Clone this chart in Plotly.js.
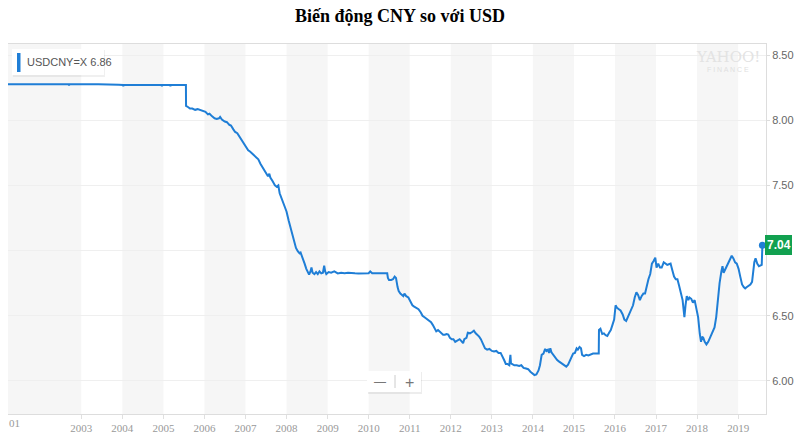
<!DOCTYPE html>
<html>
<head>
<meta charset="utf-8">
<script src="https://cdn.plot.ly/plotly-3.0.1.min.js"></script>
<style>html,body{margin:0;padding:0;background:#fff;}#chart{width:800px;height:447px;}</style>
</head>
<body>
<div id="chart"></div>
<script>
// ---- data ----
const dates = [
'2001-03-01','2001-09-01','2002-03-01','2002-09-10','2002-09-14','2002-09-18','2003-06-01','2003-11-20','2003-12-01','2004-01-05','2004-01-10','2004-01-15','2004-06-01','2004-12-15','2004-12-18','2004-12-22','2005-03-01','2005-03-04','2005-03-08','2005-07-20',
'2005-07-21','2005-08-10','2005-08-25','2005-09-15','2005-10-10','2005-11-01','2005-11-20','2005-12-15','2006-01-10','2006-02-01','2006-02-15','2006-03-10','2006-04-01','2006-04-20','2006-05-10','2006-05-20','2006-06-05','2006-07-01','2006-07-20','2006-08-10','2006-08-25','2006-09-15','2006-10-01','2006-10-20','2006-11-10','2006-12-01','2006-12-20',
'2007-01-10','2007-01-25','2007-02-10','2007-03-01','2007-03-20','2007-04-10','2007-04-25','2007-05-15','2007-06-01','2007-06-20','2007-07-05','2007-07-20','2007-08-01','2007-08-10','2007-09-01','2007-09-20','2007-10-05','2007-10-20','2007-11-01','2007-11-20','2007-12-10',
'2008-01-01','2008-01-20','2008-02-05','2008-02-20','2008-03-10','2008-03-25','2008-04-10','2008-04-25','2008-05-05','2008-05-20','2008-06-10','2008-06-25','2008-07-10','2008-07-20','2008-08-01','2008-08-10','2008-08-20','2008-09-05','2008-09-20','2008-10-05','2008-10-20','2008-11-05','2008-11-20','2008-12-01','2008-12-10','2008-12-20',
'2009-01-10','2009-02-01','2009-03-01','2009-04-01','2009-05-01','2009-06-01','2009-07-01','2009-08-01','2009-09-01','2009-10-01','2009-11-01','2009-12-01','2010-01-01','2010-01-15','2010-02-01','2010-03-01','2010-04-01','2010-05-01','2010-06-15',
'2010-06-21','2010-07-01','2010-07-20','2010-08-05','2010-08-20','2010-09-01','2010-09-15','2010-09-25','2010-10-10','2010-10-20','2010-11-05','2010-11-15','2010-12-01','2010-12-20',
'2011-01-10','2011-01-25','2011-02-10','2011-03-01','2011-03-20','2011-04-10','2011-04-25','2011-05-10','2011-05-25','2011-06-10','2011-06-25','2011-07-10','2011-07-25','2011-08-10','2011-08-25','2011-09-10','2011-09-25','2011-10-10','2011-10-25','2011-11-10','2011-11-25','2011-12-10','2011-12-25',
'2012-01-10','2012-01-25','2012-02-10','2012-03-01','2012-03-20','2012-04-05','2012-04-20','2012-05-01','2012-05-20','2012-06-01','2012-06-20','2012-07-10','2012-07-25','2012-08-10','2012-08-25','2012-09-10','2012-09-25','2012-10-10','2012-11-01','2012-11-20','2012-12-10',
'2013-01-01','2013-01-20','2013-02-10','2013-03-01','2013-03-20','2013-04-05','2013-04-20','2013-05-05','2013-05-20','2013-06-05','2013-06-15','2013-06-20','2013-07-05','2013-07-20','2013-08-10','2013-09-01','2013-09-20','2013-10-10','2013-11-01','2013-11-20','2013-12-10',
'2014-01-01','2014-01-15','2014-02-01','2014-02-20','2014-03-05','2014-03-20','2014-04-05','2014-04-20','2014-05-01','2014-05-15','2014-05-25','2014-06-05','2014-06-15','2014-07-01','2014-07-20','2014-08-05','2014-08-20','2014-09-05','2014-09-20','2014-10-10','2014-10-25','2014-11-10','2014-11-25','2014-12-10','2014-12-25',
'2015-01-10','2015-01-25','2015-02-05','2015-02-20','2015-03-05','2015-03-15','2015-04-01','2015-04-20','2015-05-10','2015-06-01','2015-06-20','2015-07-10','2015-08-10','2015-08-12','2015-08-25','2015-09-10','2015-09-25','2015-10-10','2015-10-25','2015-11-10','2015-11-25','2015-12-10','2015-12-25',
'2016-01-07','2016-01-20','2016-02-05','2016-02-20','2016-03-10','2016-03-25','2016-04-10','2016-04-25','2016-05-10','2016-05-25','2016-06-10','2016-06-25','2016-07-10','2016-07-25','2016-08-10','2016-08-25','2016-09-10','2016-09-25','2016-10-10','2016-10-25','2016-11-10','2016-11-25','2016-12-10','2016-12-25',
'2017-01-05','2017-01-20','2017-02-05','2017-02-20','2017-03-10','2017-03-25','2017-04-10','2017-04-25','2017-05-10','2017-05-25','2017-06-10','2017-06-25','2017-07-10','2017-07-25','2017-08-10','2017-08-25','2017-09-05','2017-09-10','2017-09-20','2017-10-01','2017-10-15','2017-10-25','2017-11-10','2017-11-25','2017-12-10','2017-12-25',
'2018-01-10','2018-01-25','2018-02-05','2018-02-15','2018-02-25','2018-03-10','2018-03-25','2018-04-10','2018-04-20','2018-05-05','2018-05-20','2018-06-05','2018-06-20','2018-07-05','2018-07-20','2018-08-05','2018-08-15','2018-08-25','2018-09-10','2018-09-25','2018-10-10','2018-10-25','2018-11-05','2018-11-20','2018-12-05','2018-12-20',
'2019-01-05','2019-01-20','2019-02-05','2019-02-20','2019-03-05','2019-03-20','2019-04-05','2019-04-20','2019-05-05','2019-05-15','2019-05-25','2019-06-05','2019-06-20','2019-07-05','2019-07-20','2019-07-30','2019-08-05'
];
const usdcny = [
8.277,8.277,8.277,8.277,8.266,8.277,8.277,8.277,8.272,8.271,8.262,8.271,8.270,8.270,8.262,8.270,8.270,8.262,8.270,8.270,
8.110,8.100,8.090,8.090,8.080,8.085,8.080,8.070,8.065,8.045,8.050,8.030,8.015,8.010,8.015,8.025,8.005,7.990,7.985,7.965,7.960,7.930,7.910,7.900,7.870,7.845,7.815,
7.790,7.770,7.760,7.745,7.730,7.715,7.700,7.665,7.640,7.615,7.585,7.570,7.590,7.560,7.530,7.500,7.490,7.500,7.440,7.400,7.350,
7.300,7.230,7.180,7.130,7.070,7.020,6.995,6.980,6.985,6.955,6.900,6.860,6.830,6.815,6.840,6.870,6.830,6.820,6.835,6.820,6.840,6.825,6.830,6.885,6.840,6.820,
6.835,6.830,6.840,6.825,6.830,6.827,6.830,6.826,6.826,6.825,6.826,6.826,6.826,6.840,6.826,6.826,6.826,6.826,6.826,
6.790,6.775,6.775,6.780,6.800,6.790,6.720,6.690,6.670,6.660,6.650,6.670,6.650,6.640,
6.600,6.580,6.570,6.560,6.550,6.525,6.500,6.490,6.480,6.470,6.465,6.450,6.430,6.400,6.380,6.390,6.380,6.370,6.355,6.355,6.360,6.355,6.330,
6.320,6.320,6.300,6.310,6.320,6.305,6.290,6.320,6.330,6.370,6.365,6.375,6.385,6.365,6.355,6.340,6.320,6.290,6.250,6.240,6.245,
6.230,6.225,6.230,6.215,6.215,6.190,6.160,6.130,6.130,6.120,6.200,6.135,6.130,6.120,6.120,6.115,6.120,6.100,6.095,6.090,6.070,
6.055,6.045,6.050,6.080,6.120,6.200,6.210,6.245,6.230,6.240,6.215,6.250,6.220,6.200,6.180,6.160,6.150,6.140,6.130,6.120,6.110,6.125,6.150,6.180,6.210,
6.215,6.250,6.240,6.260,6.250,6.200,6.190,6.200,6.195,6.205,6.210,6.210,6.210,6.390,6.400,6.360,6.365,6.350,6.345,6.370,6.390,6.430,6.470,
6.580,6.560,6.550,6.540,6.510,6.470,6.460,6.490,6.530,6.560,6.580,6.640,6.680,6.660,6.620,6.650,6.670,6.670,6.740,6.780,6.820,6.900,6.920,6.945,
6.870,6.900,6.870,6.870,6.910,6.900,6.890,6.895,6.900,6.850,6.800,6.780,6.780,6.730,6.680,6.620,6.530,6.490,6.580,6.650,6.620,6.640,6.630,6.600,6.620,6.550,
6.490,6.360,6.300,6.340,6.330,6.300,6.280,6.300,6.320,6.360,6.380,6.410,6.490,6.650,6.750,6.840,6.880,6.830,6.860,6.880,6.920,6.950,6.960,6.940,6.910,6.900,
6.860,6.800,6.740,6.720,6.710,6.720,6.730,6.740,6.760,6.860,6.910,6.940,6.900,6.880,6.890,6.890,7.040
];
const yearTicks = ['2003','2004','2005','2006','2007','2008','2009','2010','2011','2012','2013','2014','2015','2016','2017','2018','2019'];
const priceTicks = [6.0, 6.5, 7.0, 7.5, 8.0, 8.5];
const hiddenPriceTick = 7.0; // covered by the last-value label in the reference
const shadedYears = ['2004','2006','2008','2010','2012','2014','2016','2018'];
const chartTitle = 'Biến động CNY so với USD';
const legendText = 'USDCNY=X 6.86';
const lastLabel = '7.04';

// ---- layout helpers (pixel -> paper) ----
const L = 8, R = 766, T = 44, B = 414;
const px = v => (v - L) / (R - L);
const py = v => (B - v) / (B - T);

const xStart = '2001-03-20', xEnd = '2019-09-06';
const shapes = [];
// alternating year bands
shapes.push({type:'rect', xref:'x', yref:'paper', x0:xStart, x1:'2003-01-01', y0:0, y1:1, fillcolor:'#f6f6f6', line:{width:0}, layer:'below'});
shadedYears.forEach(y => {
  shapes.push({type:'rect', xref:'x', yref:'paper', x0:y+'-01-01', x1:(+y+1)+'-01-01', y0:0, y1:1, fillcolor:'#f6f6f6', line:{width:0}, layer:'below'});
});
// legend box shadow + box + blue bar
shapes.push({type:'rect', xref:'paper', yref:'paper', x0:px(13), x1:px(105), y0:py(77), y1:py(50), fillcolor:'rgba(0,0,0,0.06)', line:{width:0}});
shapes.push({type:'rect', xref:'paper', yref:'paper', x0:px(12), x1:px(104), y0:py(75), y1:py(49), fillcolor:'#ffffff', line:{width:0}});
shapes.push({type:'rect', xref:'paper', yref:'paper', x0:px(17), x1:px(20.5), y0:py(72), y1:py(53), fillcolor:'#1f7ed6', line:{width:0}});
// zoom buttons
shapes.push({type:'rect', xref:'paper', yref:'paper', x0:px(368), x1:px(422), y0:py(394), y1:py(372), fillcolor:'rgba(0,0,0,0.07)', line:{width:0}});
shapes.push({type:'rect', xref:'paper', yref:'paper', x0:px(367), x1:px(421), y0:py(392), y1:py(371), fillcolor:'#ffffff', line:{width:0}});
shapes.push({type:'line', xref:'paper', yref:'paper', x0:px(395), x1:px(395), y0:py(388), y1:py(375), line:{color:'#cccccc', width:1}});
// green last-value label
shapes.push({type:'rect', xref:'paper', yref:'paper', x0:px(765), x1:px(792), y0:py(255), y1:py(235), fillcolor:'#12a150', line:{width:0}});

const annotations = [
  {xref:'paper', yref:'paper', x:px(25), y:py(62), xanchor:'left', yanchor:'middle', text:legendText, showarrow:false, font:{family:'Liberation Sans, Arial', size:11, color:'#555'}},
  {xref:'paper', yref:'paper', x:px(778.5), y:py(245), xanchor:'center', yanchor:'middle', text:'<b>'+lastLabel+'</b>', showarrow:false, font:{family:'Liberation Sans, Arial', size:12, color:'#ffffff'}},
  {xref:'paper', yref:'paper', x:px(728), y:py(57), xanchor:'center', yanchor:'middle', text:'YAHOO!', showarrow:false, font:{family:'DejaVu Serif, serif', size:15, color:'#e3e3e3'}},
  {xref:'paper', yref:'paper', x:px(728), y:py(70), xanchor:'center', yanchor:'middle', text:'F I N A N C E', showarrow:false, font:{family:'Liberation Sans, Arial', size:7, color:'#e0e0e0'}},
  {xref:'paper', yref:'paper', x:px(380), y:py(382), xanchor:'center', yanchor:'middle', text:'—', showarrow:false, font:{family:'Liberation Sans, Arial', size:12, color:'#777'}},
  {xref:'paper', yref:'paper', x:px(409), y:py(382), xanchor:'center', yanchor:'middle', text:'+', showarrow:false, font:{family:'Liberation Sans, Arial', size:16, color:'#777'}},
  {xref:'paper', yref:'paper', x:px(14), y:py(423), xanchor:'center', yanchor:'middle', text:'01', showarrow:false, font:{family:'Liberation Serif, serif', size:11, color:'#999'}}
];

const traces = [
  {x:dates, y:usdcny, type:'scatter', mode:'lines', line:{color:'#1f7ed6', width:2}, hoverinfo:'x+y'},
  {x:[dates[dates.length-1]], y:[usdcny[usdcny.length-1]], type:'scatter', mode:'markers', marker:{color:'#1f7ed6', size:7}, hoverinfo:'skip'}
];

const layout = {
  width:800, height:447,
  margin:{l:L, r:800-R, t:T, b:447-B},
  paper_bgcolor:'#ffffff', plot_bgcolor:'#ffffff',
  showlegend:false,
  title:{text:'<b>'+chartTitle+'</b>', x:0.5, xanchor:'center', y:1-16/447, yanchor:'middle', yref:'container', font:{family:'Liberation Serif, Times New Roman, serif', size:18, color:'#000'}},
  xaxis:{type:'date', range:[xStart, xEnd], tickvals:yearTicks.map(y=>y+'-01-01'), ticktext:yearTicks, showgrid:false, zeroline:false,
         showline:true, linecolor:'#dddddd', mirror:true, ticks:'outside', ticklen:4, tickcolor:'#e0e0e0',
         tickfont:{family:'Liberation Serif, serif', size:11, color:'#999'}, fixedrange:true},
  yaxis:{side:'right', range:[5.746, 8.585], tickvals:priceTicks, ticktext:priceTicks.map(v=> v===hiddenPriceTick ? '' : v.toFixed(2)),
         showgrid:true, gridcolor:'#efefef', zeroline:false, showline:true, linecolor:'#dddddd',
         ticks:'outside', ticklen:3, tickcolor:'#dddddd',
         tickfont:{family:'Liberation Sans, Arial', size:11, color:'#666'}, fixedrange:true},
  shapes:shapes,
  annotations:annotations
};

Plotly.newPlot('chart', traces, layout, {displayModeBar:false, staticPlot:true});
</script>
</body>
</html>
